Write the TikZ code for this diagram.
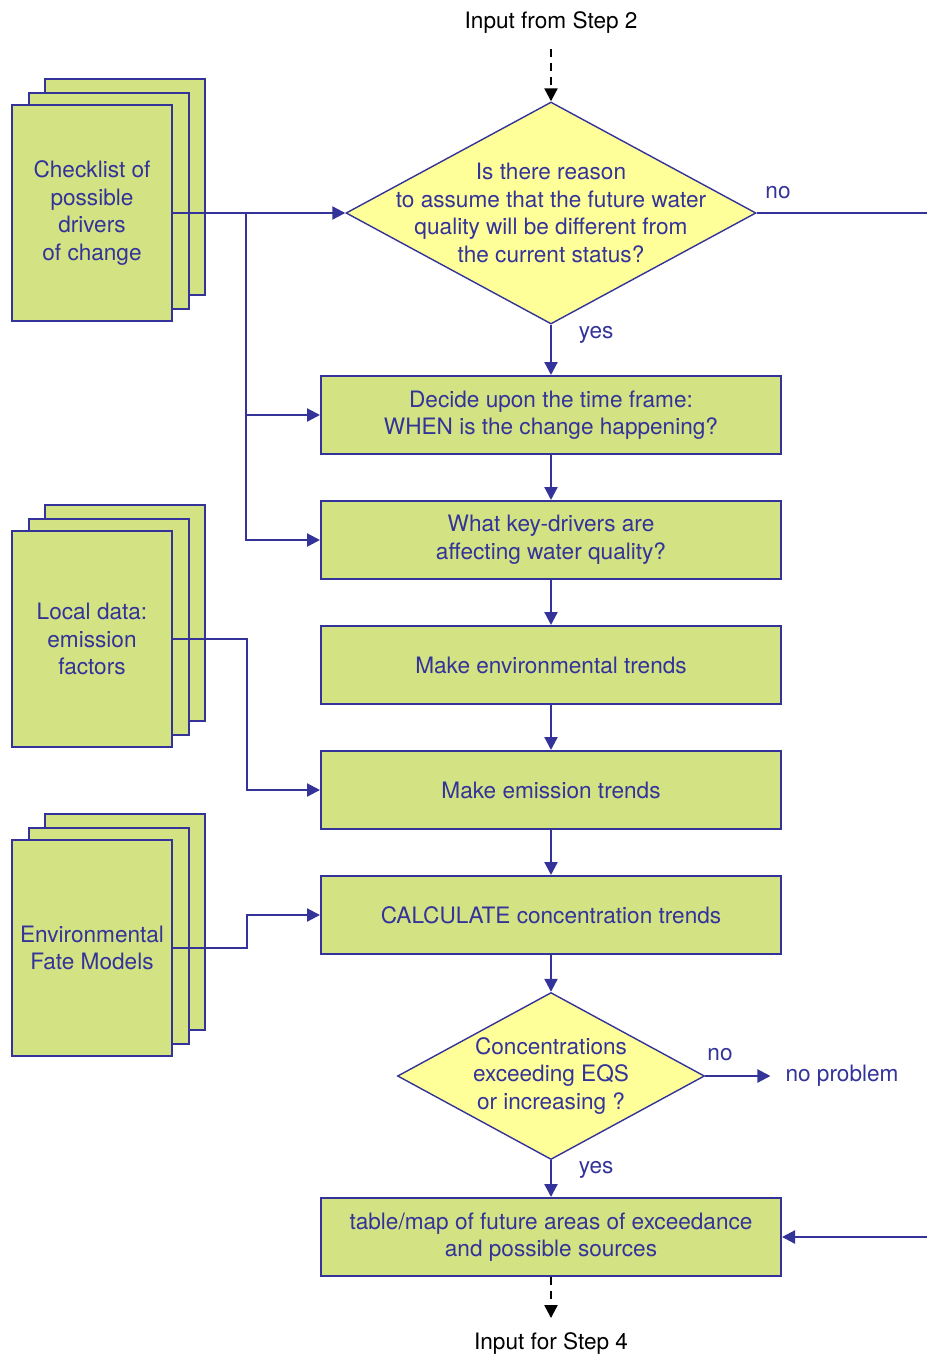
\documentclass[tikz,border=0pt]{standalone}
\usepackage{fontspec}
\setmainfont{TeX Gyre Heros}
\usetikzlibrary{shapes.geometric}
\usetikzlibrary{arrows.meta}

\definecolor{navy}{RGB}{51,51,153}
\definecolor{leaf}{RGB}{211,226,131}
\definecolor{lemon}{RGB}{255,255,153}

\tikzset{
  txt/.style={font=\fontsize{11.3}{13.8}\selectfont, text=navy, align=center},
  stepbox/.style={txt, draw=navy, line width=1pt, fill=leaf, minimum width=230pt, minimum height=39pt},
  decision/.style={draw=navy, line width=0.7pt, fill=lemon, shape=diamond, inner sep=0pt},
  page/.style={txt, draw=navy, line width=1pt, fill=leaf, minimum width=80pt, minimum height=108pt, inner sep=1pt},
  flow/.style={draw=navy, line width=1.1pt, -{Triangle[length=6.5pt,width=6.5pt]}},
  dashflow/.style={draw=black, line width=1.1pt, dash pattern=on 4pt off 3pt, -{Triangle[length=6.5pt,width=6.5pt]}},
  ioput/.style={font=\fontsize{11.3}{13.8}\selectfont, text=black}
}

\begin{document}
\begin{tikzpicture}[x=0.5pt,y=-0.5pt]
\useasboundingbox (0,0) rectangle (927,1356);
\clip (0,0) rectangle (927,1356);

  % main column
  \node[ioput] (input) at (551,23) {Input from Step 2};
  \node[decision, minimum width=205pt, minimum height=111pt,
    label={[txt]center:{Is there reason\\to assume that the future water\\quality will be different from\\the current status?}}] (reason) at (551,213) {};
  \node[stepbox] (decide) at (551,415) {Decide upon the time frame:\\WHEN is the change happening?};
  \node[stepbox] (keydrivers) at (551,540) {What key-drivers are\\affecting water quality?};
  \node[stepbox] (envtrends) at (551,665) {Make environmental trends};
  \node[stepbox] (emission) at (551,790) {Make emission trends};
  \node[stepbox] (concentration) at (551,915) {CALCULATE concentration trends};
  \node[decision, minimum width=153.5pt, minimum height=83.5pt,
    label={[txt]center:{Concentrations\\exceeding EQS\\or increasing ?}}] (exceed) at (551,1076) {};
  \node[stepbox] (result) at (551,1237) {table/map of future areas of exceedance\\and possible sources};
  \node[ioput] (output) at (551,1344) {Input for Step 4};
  \node[txt] (noproblem) at (842,1076) {no problem};

  % stacked sources
  \foreach \y in {213,639,948} {
    \node[page] at (125,\y-26) {};
    \node[page] at (109,\y-12) {};
  }
  \node[page] (checklist) at (92,213) {Checklist of\\possible\\drivers\\of change};
  \node[page] (localdata) at (92,639) {Local data:\\emission\\factors};
  \node[page] (fatemodels) at (92,948) {Environmental\\Fate Models};

  % connectors
  \draw[dashflow, shorten <=4pt] (input) -- (reason.north);
  \draw[flow] (reason.south) -- (decide.north) node[pos=0.2, right=10pt, txt] (yes1) {yes};
  \draw[flow] (decide) -- (keydrivers);
  \draw[flow] (keydrivers) -- (envtrends);
  \draw[flow] (envtrends) -- (emission);
  \draw[flow] (emission) -- (concentration);
  \draw[flow] (concentration.south) -- (exceed.north);
  \draw[flow] (exceed.south) -- (result.north) node[pos=0.25, right=10pt, txt] (yes2) {yes};
  \draw[flow, shorten >=4pt] (exceed.east) -- (exceed.east -| noproblem.west);
  \node[txt] (no2) at (720,1055) {no};
  \draw[dashflow, shorten >=4pt] (result.south) -- (output.north);

  \draw[flow] (reason.east) -- ++(200,0) |- (result.east);
  \node[txt] (no1) at (778,193) {no};

  \coordinate (split) at (246,213);
  \draw[flow] (checklist.east) -- (reason.west);
  \draw[flow] (split) |- (decide.west);
  \draw[flow] (split) |- (keydrivers.west);
  \draw[flow] (localdata.east) -- ++(74,0) |- (emission.west);
  \draw[flow] (fatemodels.east) -- ++(74,0) |- (concentration.west);

\end{tikzpicture}
\end{document}
